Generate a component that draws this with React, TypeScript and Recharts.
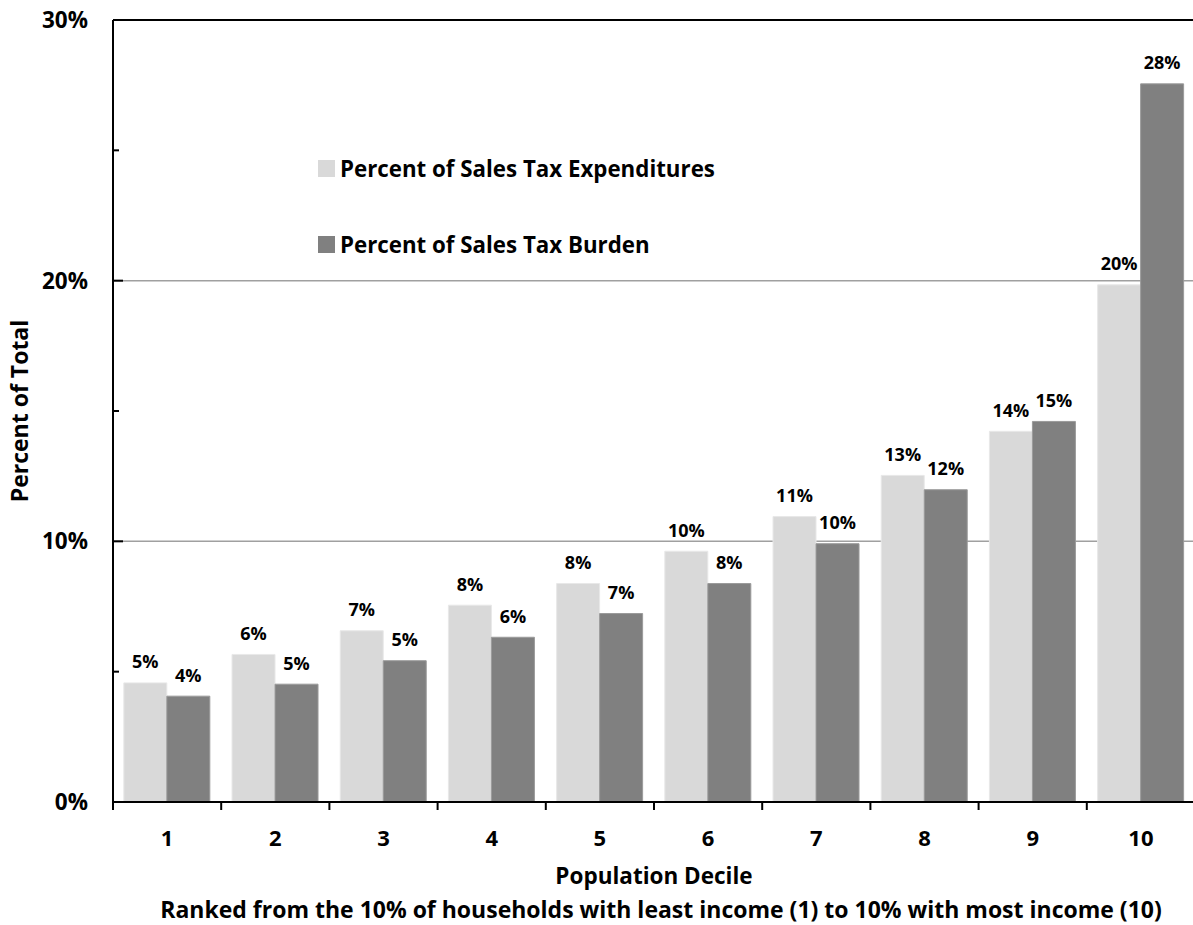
import React from 'react';
import { BarChart, Bar, XAxis, YAxis, CartesianGrid, ReferenceLine, Legend, LabelList, Label } from 'recharts';

const deciles = ['1', '2', '3', '4', '5', '6', '7', '8', '9', '10'];
const expenditures = [4.57, 5.66, 6.57, 7.55, 8.38, 9.62, 10.95, 12.53, 14.22, 19.84];
const burden = [4.06, 4.52, 5.42, 6.32, 7.23, 8.38, 9.91, 11.98, 14.6, 27.55];
const yTicks = [0, 5, 10, 15, 20, 25, 30];
const seriesNames = ['Percent of Sales Tax Expenditures', 'Percent of Sales Tax Burden'];
const xTitle = 'Population Decile';
const xSubtitle = 'Ranked from the 10% of households with least income (1) to 10% with most income (10)';
const yTitle = 'Percent of Total';

const data = deciles.map((d, i) => ({ decile: d, exp: expenditures[i], burden: burden[i] }));

const FONT = '"Open Sans", "Noto Sans", sans-serif';
const W = 1200;
const H = 925;
const M = { top: 20, right: 5, left: 0, bottom: 0 };
const Y_W = 113;
const X_H = 123;
const PLOT_W = W - M.left - M.right - Y_W;
const BW = PLOT_W / deciles.length;
const PLOT_CX = M.left + Y_W + PLOT_W / 2;

const XTick = (props: any) => {
  const { x, y, payload } = props;
  return (
    <g>
      <line x1={x - BW / 2} x2={x - BW / 2} y1={y} y2={y + 8} stroke="#000" strokeWidth={2} />
      {payload.index === deciles.length - 1 && (
        <line x1={x + BW / 2} x2={x + BW / 2} y1={y} y2={y + 8} stroke="#000" strokeWidth={2} />
      )}
      <text x={x} y={y + 44} textAnchor="middle" fontFamily={FONT} fontWeight={700} fontSize={22} fill="#000">
        {payload.value}
      </text>
    </g>
  );
};

const YTick = (props: any) => {
  const { x, y, payload } = props;
  const major = payload.value % 10 === 0;
  return (
    <g>
      <line x1={x} x2={x + (major ? 10 : 6)} y1={y} y2={y} stroke="#000" strokeWidth={2} />
      {major && (
        <text x={x - 25} y={y} dy="0.36em" textAnchor="end" fontFamily={FONT} fontWeight={700} fontSize={22.5} fill="#000">
          {payload.value + '%'}
        </text>
      )}
    </g>
  );
};

const renderLegend = (props: any) => {
  const payload = [...(props.payload || [])].sort(
    (a: any, b: any) => seriesNames.indexOf(a.value) - seriesNames.indexOf(b.value)
  );
  return (
    <div style={{ fontFamily: FONT, fontWeight: 700, fontSize: 22.3, color: '#000' }}>
      {payload.map((entry: any, i: number) => (
        <div key={i} style={{ display: 'flex', alignItems: 'center', height: 17, marginBottom: i === 0 ? 59 : 0, whiteSpace: 'nowrap' }}>
          <span style={{ display: 'inline-block', width: 17, height: 17, background: entry.color, marginRight: 5 }} />
          <span style={{ lineHeight: '17px' }}>{entry.value}</span>
        </div>
      ))}
    </div>
  );
};

const XTitle = (props: any) => {
  const { viewBox } = props;
  const y = viewBox.y;
  return (
    <g fontFamily={FONT} fontWeight={700} fill="#000">
      <text x={PLOT_CX} y={y + 82} textAnchor="middle" fontSize={22.5}>{xTitle}</text>
      <text x={PLOT_CX + 7} y={y + 116} textAnchor="middle" fontSize={23}>{xSubtitle}</text>
    </g>
  );
};

const YTitle = (props: any) => {
  const { viewBox } = props;
  const cy = viewBox.y + viewBox.height / 2;
  const x = 28;
  return (
    <text x={x} y={cy} transform={`rotate(-90, ${x}, ${cy})`} textAnchor="middle" fontFamily={FONT} fontWeight={700} fontSize={23} fill="#000">
      {yTitle}
    </text>
  );
};

const fmt = (v: any) => Math.round(Number(v)) + '%';

export default function App() {
  return (
    <div style={{ position: 'fixed', left: 0, top: 0, width: 1193, height: 925, overflow: 'hidden', background: '#fff' }}>
      <BarChart width={W} height={H} data={data} margin={M} barCategoryGap="10%" barGap={0}>
        <CartesianGrid vertical={false} horizontalValues={[10, 20]} stroke="#a0a0a0" strokeWidth={1.5} />
        <XAxis
          dataKey="decile"
          height={X_H}
          tickSize={0}
          tickMargin={0}
          tickLine={false}
          axisLine={{ stroke: '#000', strokeWidth: 2 }}
          tick={<XTick />}
          interval={0}
        >
          <Label content={<XTitle />} />
        </XAxis>
        <YAxis
          width={Y_W}
          domain={[0, 30]}
          ticks={yTicks}
          interval={0}
          tickSize={0}
          tickMargin={0}
          tickLine={false}
          axisLine={{ stroke: '#000', strokeWidth: 2 }}
          tick={<YTick />}
        >
          <Label content={<YTitle />} />
        </YAxis>
        <ReferenceLine y={30} stroke="#000" strokeWidth={2} />
        <Legend
          layout="vertical"
          align="center"
          verticalAlign="middle"
          content={renderLegend}
          wrapperStyle={{ top: 160, left: 318, width: 500 }}
        />
        <Bar dataKey="exp" name={seriesNames[0]} fill="#d9d9d9" stroke="#e8e8e8" strokeWidth={1} isAnimationActive={false}>
          <LabelList dataKey="exp" position="top" offset={14.5} formatter={fmt} fontFamily={FONT} fontWeight={700} fontSize={18} fill="#000" />
        </Bar>
        <Bar dataKey="burden" name={seriesNames[1]} fill="#808080" stroke="#9a9a9a" strokeWidth={1} isAnimationActive={false}>
          <LabelList dataKey="burden" position="top" offset={14.5} formatter={fmt} fontFamily={FONT} fontWeight={700} fontSize={18} fill="#000" />
        </Bar>
      </BarChart>
    </div>
  );
}
